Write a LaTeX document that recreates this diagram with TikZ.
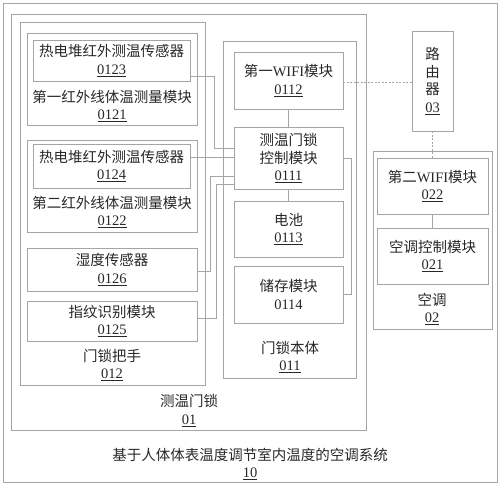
\documentclass[tikz,border=0pt]{standalone}
\usepackage{fontspec}
\setmainfont{Noto Sans CJK SC}
\newfontfamily\numfont{Liberation Serif}
\usetikzlibrary{fit}
\definecolor{edge}{RGB}{165,165,165}
\definecolor{ink}{RGB}{40,40,40}
\newcommand\fs{\fontsize{14.5}{17.5}\selectfont}
\newcommand\nm[1]{{\numfont\underline{#1}}}
\tikzset{
 box/.style={draw=edge, line width=0.8pt, inner sep=0pt},
 txt/.style={align=center, text=ink, inner sep=0pt, font=\fs},
 inbox/.style={label={[txt]center:{#1}}},
 wire/.style={draw=edge, line width=0.7pt},
 link/.style={draw=edge, line width=0.7pt, dash pattern=on 2pt off 1.5pt}
}
\begin{document}
\begin{tikzpicture}[x=1pt,y=-1pt]
\useasboundingbox (0,0) rectangle (500,485);
% containers
\node[box, fit={(3,3)(497,482)}] (b10) {};
\node[box, fit={(11,14)(366,430)}] (b01) {};
\node[box, fit={(20,22)(205,385)}] (b012) {};
\node[box, fit={(27,33)(197,125)}] (b0121) {};
\node[box, fit={(27,140)(197,232)}] (b0122) {};
\node[box, fit={(223,41)(356,378)}] (b011) {};
\node[box, fit={(373,151)(492,329)}] (b02) {};
% leaf boxes
\node[box, fit={(33,40)(190,81)}, inbox={热电堆红外测温传感器\\\nm{0123}}] (b0123) {};
\node[box, fit={(33,144)(190,188)}, inbox={热电堆红外测温传感器\\\nm{0124}}] (b0124) {};
\node[box, fit={(27,248)(197,291)}, inbox={湿度传感器\\\nm{0126}}] (b0126) {};
\node[box, fit={(27,301)(197,341)}, inbox={指纹识别模块\\\nm{0125}}] (b0125) {};
\node[box, fit={(234,52)(343,109)}, inbox={第一{\numfont WIFI}模块\\\nm{0112}}] (b0112) {};
\node[box, fit={(234,127)(343,189)}, inbox={测温门锁\\控制模块\\\nm{0111}}] (b0111) {};
\node[box, fit={(234,201)(343,257)}, inbox={电池\\\nm{0113}}] (b0113) {};
\node[box, fit={(234,266)(343,323)}, inbox={储存模块\\{\numfont 0114}}] (b0114) {};
\node[box, fit={(412,31)(453,131)}, inbox={路\\由\\器\\\nm{03}}] (b03) {};
\node[box, fit={(377,158)(488,214)}, inbox={第二{\numfont WIFI}模块\\\nm{022}}] (b022) {};
\node[box, fit={(377,228)(488,284)}, inbox={空调控制模块\\\nm{021}}] (b021) {};
% container labels
\node[txt] (l0121) at (112,106) {第一红外线体温测量模块\\\nm{0121}};
\node[txt] (l0122) at (112,212) {第二红外线体温测量模块\\\nm{0122}};
\node[txt] (l012) at (112,365) {门锁把手\\\nm{012}};
\node[txt] (l011) at (290,357) {门锁本体\\\nm{011}};
\node[txt] (l01) at (189,410.5) {测温门锁\\\nm{01}};
\node[txt] (l02) at (432,309) {空调\\\nm{02}};
\node[txt] (l10) at (250,464) {基于人体体表温度调节室内温度的空调系统\\\nm{10}};
% wire coordinates
\coordinate (y1) at (0,76);
\coordinate (y2) at (0,148);
\coordinate (y3) at (0,157);
\coordinate (y4) at (0,271);
\coordinate (y5) at (0,176);
\coordinate (y6) at (0,318);
\coordinate (y7) at (0,184);
\coordinate (y8) at (0,82);
% connectors
\draw[wire] (b0123.east |- y1) -- (214,76) |- (b0111.west |- y2);
\draw[wire] (b0124.east |- y3) -- (b0111.west |- y3);
\draw[wire] (b0126.east |- y4) -- (210,271) |- (b0111.west |- y5);
\draw[wire] (b0125.east |- y6) -- (216,318) |- (b0111.west |- y7);
\draw[wire] (b0111.east) -- ++(8,0) |- (b0114.east);
\draw[wire] (b0112.south) -- (b0111.north);
\draw[wire] (b0111.south) -- (b0113.north);
\draw[wire] (b022.south) -- (b021.north);
\draw[link] (b0112.east |- y8) -- (b03.west |- y8);
\draw[link] (b03.south) -- (b022.north);
\end{tikzpicture}
\end{document}
